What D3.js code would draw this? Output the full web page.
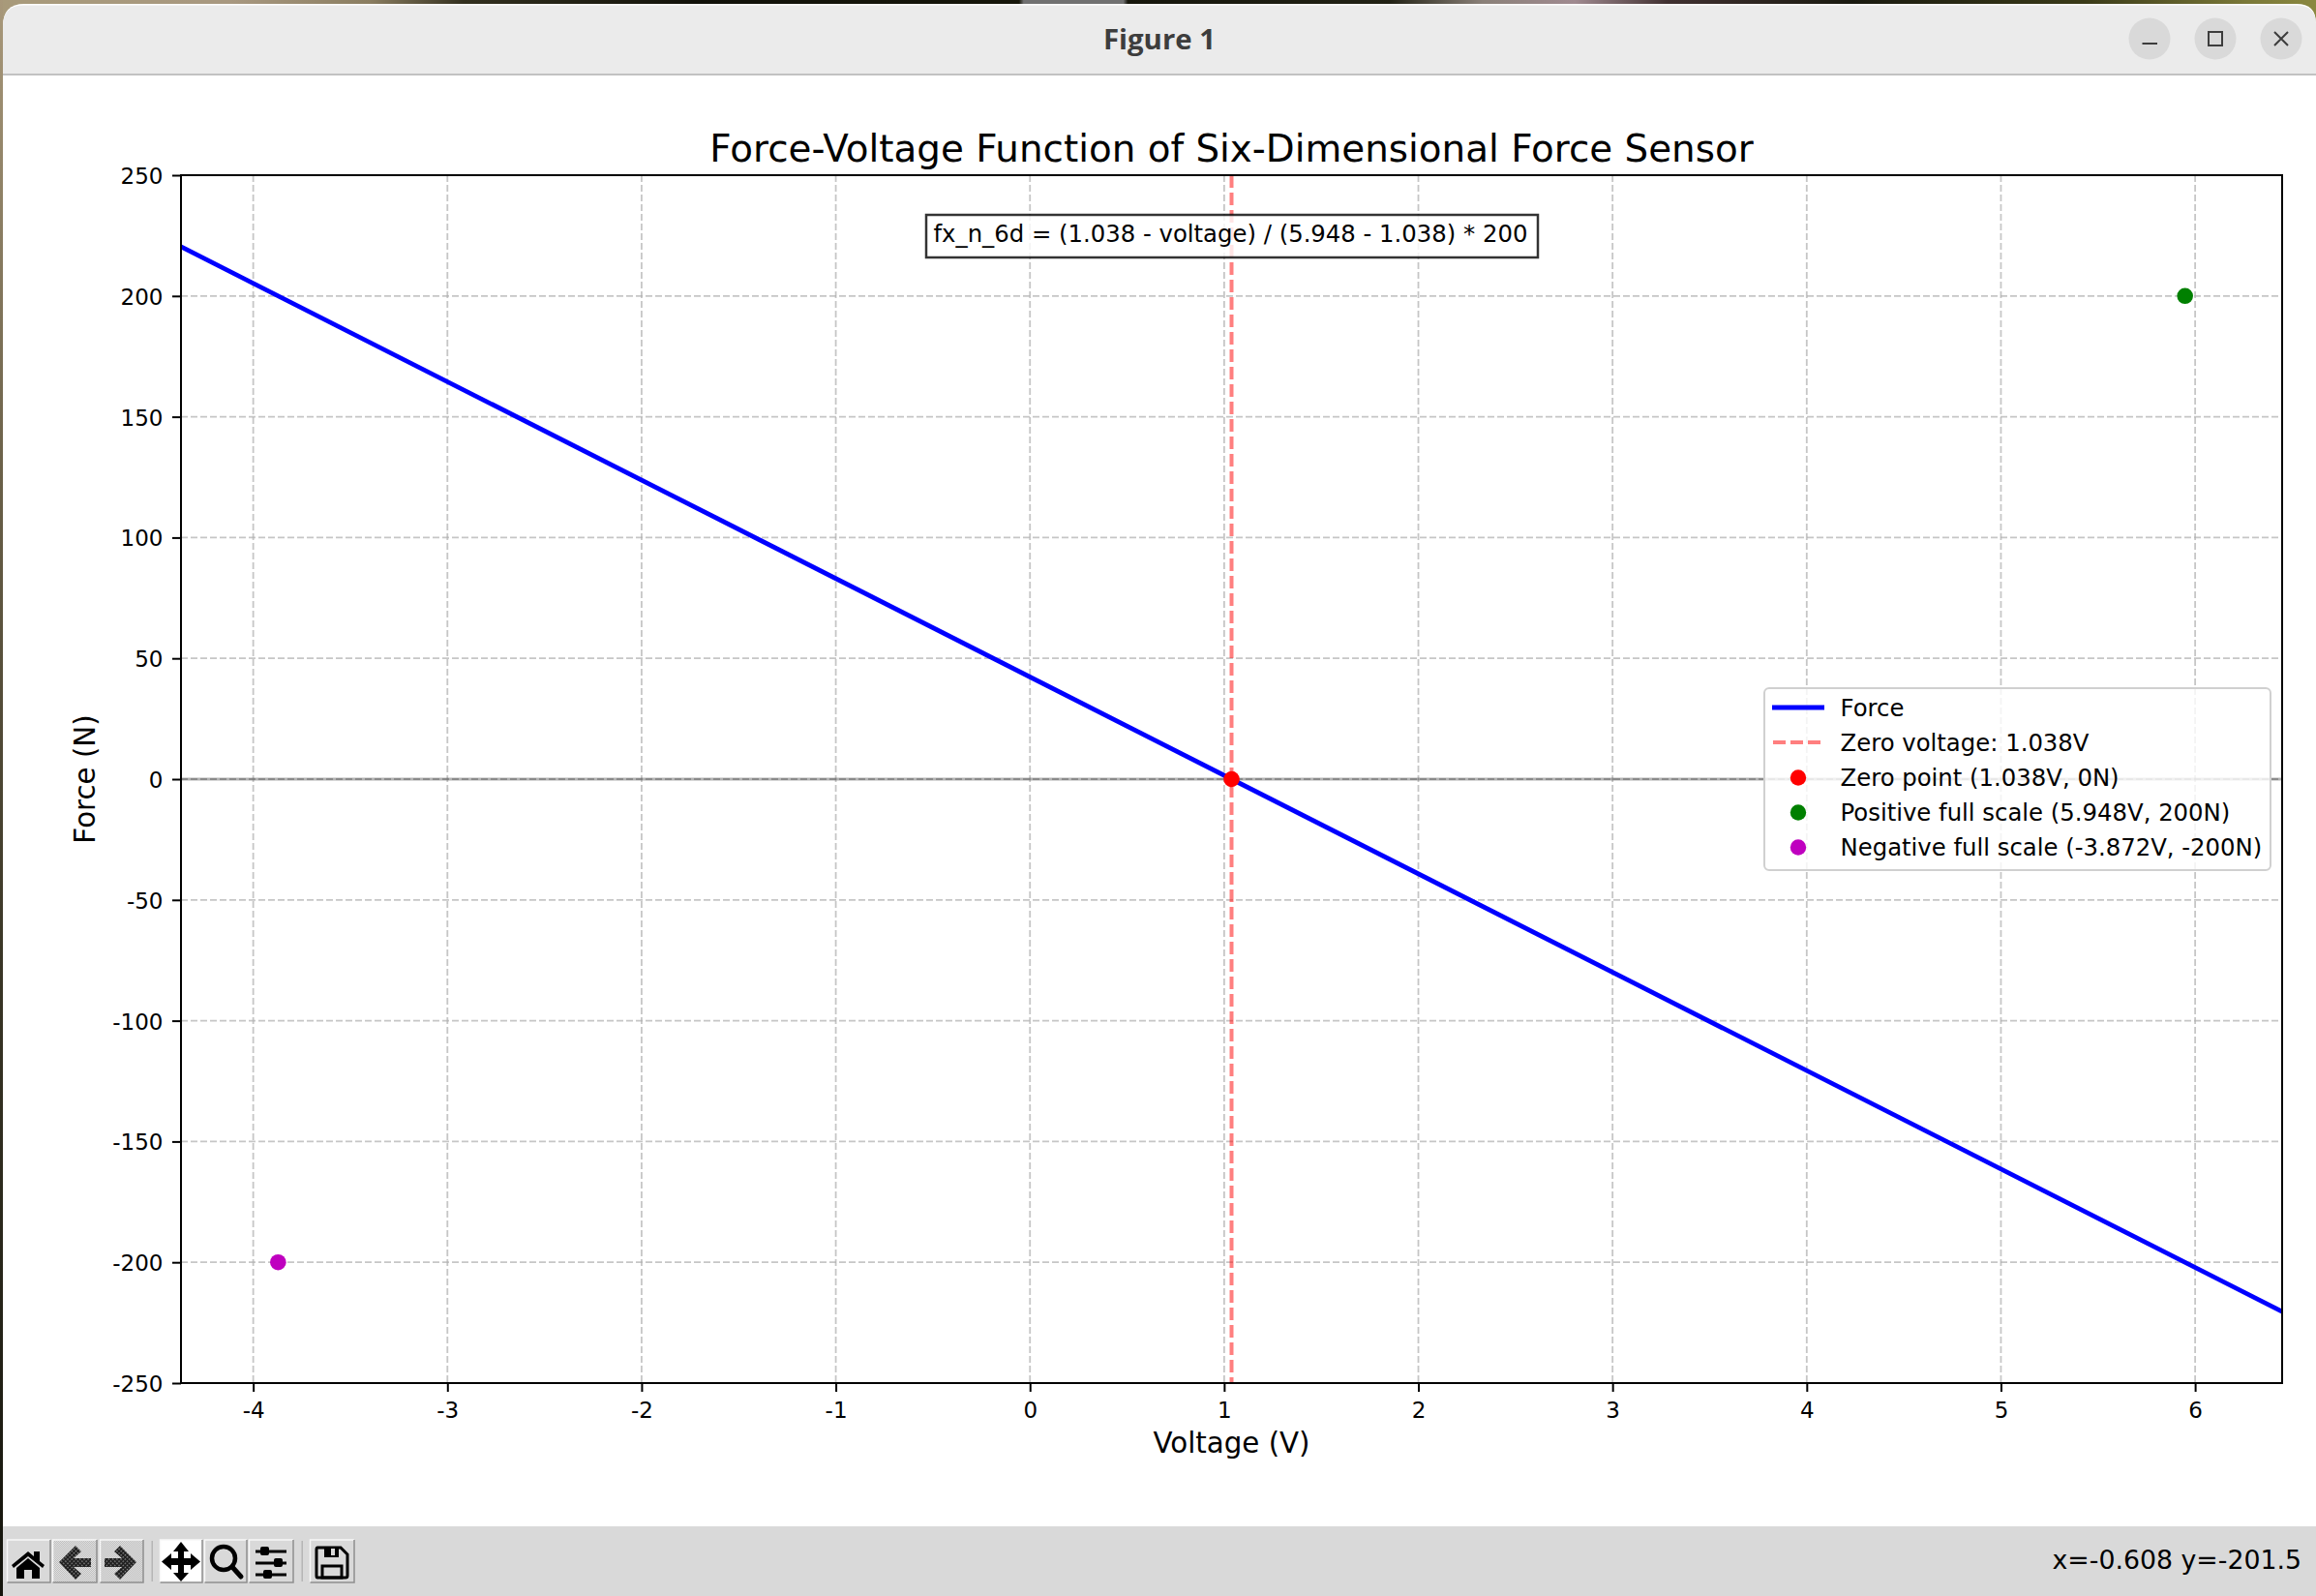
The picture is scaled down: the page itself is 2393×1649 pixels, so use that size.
<!DOCTYPE html>
<html><head><meta charset="utf-8">
<script src="https://cdn.jsdelivr.net/npm/d3@7/dist/d3.min.js"></script>
<style>
html,body{margin:0;padding:0;background:#fff;overflow:hidden}
svg{display:block}
text{font-family:"DejaVu Sans",sans-serif;fill:#000}
</style></head><body>
<svg id="c" width="2393" height="1649"></svg>
<script>
const lineVoltage=[-4.372,6.448];
const lineForce=[220.4,-220.4];
const zeroVoltage=[1.038];
const zeroPoint=[[1.038,0]];
const posPoint=[[5.948,200]];
const negPoint=[[-3.872,-200]];
const xTicks=[-4,-3,-2,-1,0,1,2,3,4,5,6];
const yTicks=[-250,-200,-150,-100,-50,0,50,100,150,200,250];
const xDomain=[-4.372,6.448];
const yDomain=[-250,250];
const titleText="Force-Voltage Function of Six-Dimensional Force Sensor";
const xLabel="Voltage (V)";
const yLabel="Force (N)";
const formula="fx_n_6d = (1.038 - voltage) / (5.948 - 1.038) * 200";
const legendLabels=["Force","Zero voltage: 1.038V","Zero point (1.038V, 0N)","Positive full scale (5.948V, 200N)","Negative full scale (-3.872V, -200N)"];
const statusText="x=-0.608 y=-201.5";

const W=2393,H=1649;
const L=187,R=2358,T=181,B=1429;
const svg=d3.select("#c");
const defs=svg.append("defs");
const g1=defs.append("linearGradient").attr("id","wall");
[[0,"#a89a7a"],[0.1,"#a89880"],[0.16,"#8a7d60"],[0.2,"#33301f"],[0.3,"#12120a"],[0.44,"#16160a"],[0.442,"#707070"],[0.485,"#707070"],[0.487,"#16160c"],[0.6,"#222215"],[0.64,"#8a8078"],[0.68,"#a08a90"],[0.72,"#403030"],[0.8,"#1a1a10"],[0.9,"#3a3a18"],[0.97,"#7a7838"],[1,"#8a8840"]].forEach(d=>g1.append("stop").attr("offset",d[0]).attr("stop-color",d[1]));
const g2=defs.append("linearGradient").attr("id","lefted").attr("x1",0).attr("x2",0).attr("y1",0).attr("y2",1);
[[0,"#a8987a"],[0.3,"#6a6048"],[0.6,"#3a3626"],[1,"#14140c"]].forEach(d=>g2.append("stop").attr("offset",d[0]).attr("stop-color",d[1]));
const pat=defs.append("pattern").attr("id","dither").attr("width",2).attr("height",2).attr("patternUnits","userSpaceOnUse");
pat.append("rect").attr("width",2).attr("height",2).attr("fill","#e2e2e2");
pat.append("rect").attr("width",1).attr("height",1).attr("fill","#bdbdbd");
pat.append("rect").attr("x",1).attr("y",1).attr("width",1).attr("height",1).attr("fill","#bdbdbd");
const pat2=defs.append("pattern").attr("id","dither2").attr("width",3).attr("height",3).attr("patternUnits","userSpaceOnUse").attr("patternTransform","rotate(45)");
pat2.append("rect").attr("width",3).attr("height",3).attr("fill","#1a1a1a");
pat2.append("rect").attr("width",1.4).attr("height",1.4).attr("fill","#9a9a9a");
defs.append("clipPath").attr("id","plotclip").append("rect").attr("x",L).attr("y",T).attr("width",R-L).attr("height",B-T);

// desktop behind window
svg.append("rect").attr("width",W).attr("height",H).attr("fill","url(#wall)");
svg.append("rect").attr("y",0).attr("width",3).attr("height",H).attr("fill","url(#lefted)");
// window
svg.append("path").attr("d",`M3,${H}V27Q3,4 25,4H${W-20}Q${W},4 ${W},24V${H}Z`).attr("fill","#fff");
svg.append("path").attr("d",`M3,76V27Q3,5.5 25,5.5H${W-20}Q${W},5.5 ${W},25V76Z`).attr("fill","#ebebeb");
svg.append("rect").attr("x",3).attr("y",76).attr("width",W-3).attr("height",2).attr("fill","#c2c2c2");
svg.append("text").attr("x",1198).attr("y",51).attr("text-anchor","middle").attr("font-size",29.4).attr("font-weight",700).style("font-family","'Open Sans','Noto Sans',sans-serif").style("fill","#3d3d3d").text("Figure 1");
// window buttons
const btnX=[2221,2289,2357];
svg.selectAll("circle.wb").data(btnX).join("circle").attr("class","wb").attr("cx",d=>d).attr("cy",40).attr("r",21.5).attr("fill","#d9d9d9");
svg.append("rect").attr("x",2213.5).attr("y",44).attr("width",15.5).attr("height",2).attr("fill","#3d3d3d");
svg.append("rect").attr("x",2282).attr("y",33).attr("width",14).attr("height",14).attr("fill","none").attr("stroke","#3d3d3d").attr("stroke-width",2);
svg.append("path").attr("d","M2350,33L2364,47M2364,33L2350,47").attr("stroke","#3d3d3d").attr("stroke-width",2).attr("fill","none");

// scales
const x=d3.scaleLinear().domain(xDomain).range([L,R]);
const y=d3.scaleLinear().domain(yDomain).range([B,T]);
const plot=svg.append("g");
const gridDash="7,3";
const clip=plot.append("g").attr("clip-path","url(#plotclip)");
const gridStyle=s=>s.attr("stroke","#b0b0b0").attr("stroke-opacity",.72).attr("stroke-width",1.8).attr("stroke-dasharray",gridDash);
clip.selectAll("line.gx").data(xTicks).join("line").attr("class","gx").attr("x1",d=>x(d)).attr("x2",d=>x(d)).attr("y1",T).attr("y2",B).call(gridStyle);
clip.selectAll("line.gy").data(yTicks).join("line").attr("class","gy").attr("x1",L).attr("x2",R).attr("y1",d=>y(d)).attr("y2",d=>y(d)).call(gridStyle);
// zero reference line over the grid
clip.append("line").attr("x1",L).attr("x2",R).attr("y1",y(0)).attr("y2",y(0)).attr("stroke","#000").attr("stroke-opacity",.3).attr("stroke-width",3);
// force line
const line=d3.line().x(d=>x(d[0])).y(d=>y(d[1]));
clip.append("path").attr("d",line(d3.zip(lineVoltage,lineForce))).attr("fill","none").attr("stroke","#0000ff").attr("stroke-width",4.8);
clip.selectAll("line.zv").data(zeroVoltage).join("line").attr("class","zv").attr("x1",d=>x(d)).attr("x2",d=>x(d)).attr("y1",T).attr("y2",B).attr("stroke","#ff0000").attr("stroke-opacity",.5).attr("stroke-width",4).attr("stroke-dasharray","13,5");
const pts=(data,c)=>plot.selectAll(null).data(data).join("circle").attr("cx",d=>x(d[0])).attr("cy",d=>y(d[1])).attr("r",8.3).attr("fill",c);
pts(zeroPoint,"#ff0000");pts(posPoint,"#008000");pts(negPoint,"#bf00bf");

// axes
const ax=d3.axisBottom(x).tickValues(xTicks).tickFormat(d=>String(d)).tickSize(9).tickPadding(10.5);
const ay=d3.axisLeft(y).tickValues(yTicks).tickFormat(d=>String(d)).tickSize(9).tickPadding(9.5);
const gx=svg.append("g").attr("transform",`translate(0,${B})`).call(ax);
const gy=svg.append("g").attr("transform",`translate(${L},0)`).call(ay);
[gx,gy].forEach(g=>{g.select(".domain").remove();g.selectAll("line").attr("stroke","#000").attr("stroke-width",2);g.selectAll("text").attr("font-size",23).attr("font-family",null);});
gy.selectAll("text").attr("dy","0.37em");
svg.append("rect").attr("x",L).attr("y",T).attr("width",R-L).attr("height",B-T).attr("fill","none").attr("stroke","#000").attr("stroke-width",2);
// labels
svg.append("text").attr("x",(L+R)/2).attr("y",167).attr("text-anchor","middle").attr("font-size",38.83).text(titleText);
svg.append("text").attr("x",(L+R)/2).attr("y",1501).attr("text-anchor","middle").attr("font-size",29.3).text(xLabel);
svg.append("text").attr("transform",`translate(98,${(T+B)/2}) rotate(-90)`).attr("text-anchor","middle").attr("font-size",29.3).text(yLabel);
// annotation
svg.append("rect").attr("x",957).attr("y",222).attr("width",632).attr("height",44).attr("fill","#fff").attr("fill-opacity",.8).attr("stroke","#000").attr("stroke-opacity",.8).attr("stroke-width",2.5);
svg.append("text").attr("x",964.5).attr("y",250).attr("font-size",24.35).text(formula);
// legend
const LX=1823,LW=523,LY=711,LH=188;
svg.append("rect").attr("x",LX).attr("y",LY).attr("width",LW).attr("height",LH).attr("rx",5).attr("fill","#fff").attr("fill-opacity",.8).attr("stroke","#d0d0d0").attr("stroke-width",2);
const rowY=[731,767,803.5,839.5,875.5];
const handleX=[1832,1885],markX=1858,txtX=1901.5;
const leg=svg.append("g");
leg.selectAll("text").data(legendLabels).join("text").attr("x",txtX).attr("y",(d,i)=>rowY[i]+8.5).attr("font-size",24.35).text(d=>d);
leg.append("line").attr("x1",handleX[0]-1).attr("x2",handleX[1]).attr("y1",rowY[0]).attr("y2",rowY[0]).attr("stroke","#00f").attr("stroke-width",4.8);
leg.append("line").attr("x1",handleX[0]).attr("x2",handleX[1]-4).attr("y1",rowY[1]).attr("y2",rowY[1]).attr("stroke","#f00").attr("stroke-opacity",.5).attr("stroke-width",4).attr("stroke-dasharray","13,5");
[["#ff0000",2],["#008000",3],["#bf00bf",4]].forEach(d=>leg.append("circle").attr("cx",markX).attr("cy",rowY[d[1]]).attr("r",8.2).attr("fill",d[0]));

// toolbar
svg.append("rect").attr("x",3).attr("y",1577).attr("width",W-3).attr("height",H-1577).attr("fill","#d9d9d9");
const btns=[[7,45,"#d9d9d9"],[54,46,"url(#dither)"],[103,45,"url(#dither)"],[165,44,"#ffffff"],[211,44,"#d9d9d9"],[257,46,"#d9d9d9"],[320,46,"#d9d9d9"]];
const tb=svg.append("g");
btns.forEach(b=>{
 tb.append("rect").attr("x",b[0]).attr("y",1591).attr("width",b[1]).attr("height",44).attr("fill",b[2]);
 tb.append("path").attr("d",`M${b[0]+.5},${1635}V${1591}H${b[0]+b[1]}`).attr("fill","none").attr("stroke","#f8f8f8").attr("stroke-width",1.5);
 tb.append("path").attr("d",`M${b[0]+.5},${1635}H${b[0]+b[1]}V${1591}`).attr("fill","none").attr("stroke","#8f8f8f").attr("stroke-width",1.5);
});
[157,312].forEach(sx=>tb.append("rect").attr("x",sx-.5).attr("y",1592).attr("width",1.5).attr("height",42).attr("fill","#b5b5b5"));
// home
tb.append("path").attr("d","M12,1617L29,1603L35,1608V1603H41V1613L46,1617L44,1620L29,1608L14,1620Z M17,1620L29,1610L41,1620V1631H33V1622H25V1631H17Z").attr("fill","#000");
// back / forward
tb.append("path").attr("d","M61,1614L78,1597L84,1603L76,1610H94V1619H76L84,1626L78,1632Z").attr("fill","url(#dither2)");
tb.append("path").attr("d","M141,1614L124,1597L118,1603L126,1610H108V1619H126L118,1626L124,1632Z").attr("fill","url(#dither2)");
// move
tb.append("path").attr("d","M187,1593L195,1603H190V1610H197V1605L207,1613.5L197,1622V1617H190V1625H195L187,1634L179,1625H184V1617H177V1622L167,1613.5L177,1605V1610H184V1603H179Z").attr("fill","#000");
// zoom
tb.append("circle").attr("cx",231).attr("cy",1610).attr("r",12).attr("fill","none").attr("stroke","#000").attr("stroke-width",4.5);
tb.append("line").attr("x1",240).attr("y1",1619).attr("x2",249).attr("y2",1629).attr("stroke","#000").attr("stroke-width",5).attr("stroke-linecap","round");
// sliders
[[1603,273],[1615,287],[1627,276]].forEach(s=>{
 tb.append("line").attr("x1",264).attr("x2",296).attr("y1",s[0]).attr("y2",s[0]).attr("stroke","#000").attr("stroke-width",3);
 tb.append("rect").attr("x",s[1]-4).attr("y",s[0]-5).attr("width",9).attr("height",9).attr("rx",2).attr("fill","#000");
});
// save
tb.append("path").attr("d","M328,1599H352L359,1606V1628Q359,1630 357,1630H328Q327,1630 327,1628V1601Q327,1599 328,1599Z").attr("fill","none").attr("stroke","#000").attr("stroke-width",3);
tb.append("rect").attr("x",335).attr("y",1598).attr("width",15).attr("height",11).attr("fill","#000");
tb.append("rect").attr("x",342).attr("y",1600).attr("width",4).attr("height",7).attr("fill","#d9d9d9");
tb.append("rect").attr("x",333).attr("y",1618).attr("width",20).attr("height",12).attr("fill","none").attr("stroke","#000").attr("stroke-width",3);
// status
svg.append("text").attr("x",2378).attr("y",1621).attr("text-anchor","end").attr("font-size",26.75).text(statusText);
</script>
</body></html>
